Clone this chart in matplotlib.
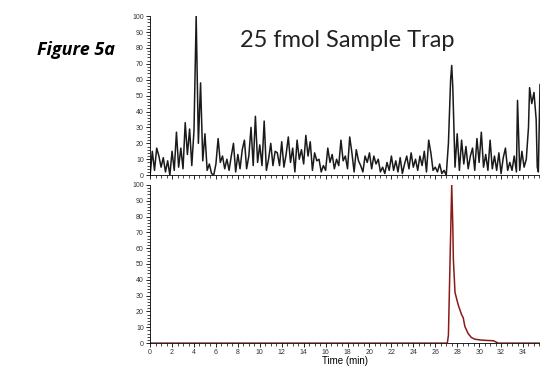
import numpy as np
import matplotlib
matplotlib.use("Agg")
import matplotlib.pyplot as plt
from matplotlib.ticker import MultipleLocator

# top trace (noisy background), time in min / relative abundance
top_t = [0.0, 0.2, 0.4, 0.6, 0.8, 1.0, 1.2, 1.4, 1.6, 1.8,
         2.0, 2.2, 2.4, 2.6, 2.8, 3.0, 3.2, 3.4, 3.6, 3.8,
         4.0, 4.2, 4.4, 4.6, 4.8, 5.0, 5.2, 5.4, 5.6, 5.8,
         6.0, 6.2, 6.4, 6.6, 6.8, 7.0, 7.2, 7.4, 7.6, 7.8,
         8.0, 8.2, 8.4, 8.6, 8.8, 9.0, 9.2, 9.4, 9.6, 9.8,
         10.0, 10.2, 10.4, 10.6, 10.8, 11.0, 11.2, 11.4, 11.6, 11.8,
         12.0, 12.2, 12.4, 12.6, 12.8, 13.0, 13.2, 13.4, 13.6, 13.8,
         14.0, 14.2, 14.4, 14.6, 14.8, 15.0, 15.2, 15.4, 15.6, 15.8,
         16.0, 16.2, 16.4, 16.6, 16.8, 17.0, 17.2, 17.4, 17.6, 17.8,
         18.0, 18.2, 18.4, 18.6, 18.8, 19.0, 19.2, 19.4, 19.6, 19.8,
         20.0, 20.2, 20.4, 20.6, 20.8, 21.0, 21.2, 21.4, 21.6, 21.8,
         22.0, 22.2, 22.4, 22.6, 22.8, 23.0, 23.2, 23.4, 23.6, 23.8,
         24.0, 24.2, 24.4, 24.6, 24.8, 25.0, 25.2, 25.4, 25.6, 25.8,
         26.0, 26.2, 26.4, 26.6, 26.8, 27.0, 27.2, 27.4, 27.5, 27.6, 27.8,
         28.0, 28.2, 28.4, 28.6, 28.8, 29.0, 29.2, 29.4, 29.6, 29.8,
         30.0, 30.2, 30.4, 30.6, 30.8, 31.0, 31.2, 31.4, 31.6, 31.8,
         32.0, 32.2, 32.4, 32.6, 32.8, 33.0, 33.2, 33.4, 33.5, 33.7, 33.9,
         34.1, 34.3, 34.5, 34.6, 34.8, 35.0, 35.2, 35.3, 35.4, 35.55]
top_y = [0, 15, 3, 17, 12, 5, 11, 2, 9, 0,
         15, 3, 27, 5, 17, 4, 33, 13, 29, 6,
         28, 100, 20, 58, 9, 26, 3, 7, 1, 0,
         7, 23, 8, 12, 4, 10, 3, 12, 20, 2,
         13, 4, 16, 22, 4, 12, 30, 6, 37, 8,
         19, 6, 34, 3, 10, 20, 6, 15, 14, 6,
         21, 5, 13, 24, 8, 17, 2, 22, 10, 16,
         7, 25, 12, 21, 3, 14, 9, 10, 2, 6,
         3, 17, 8, 13, 4, 10, 6, 22, 9, 12,
         4, 24, 14, 2, 16, 9, 6, 2, 12, 8,
         14, 4, 12, 7, 10, 2, 5, 1, 8, 3,
         12, 3, 9, 2, 11, 1, 7, 12, 4, 14,
         5, 10, 3, 12, 6, 15, 2, 22, 14, 3,
         5, 2, 7, 1, 3, 0, 20, 60, 69, 55, 5,
         26, 3, 22, 7, 18, 4, 12, 17, 3, 23,
         8, 27, 5, 13, 3, 22, 4, 12, 3, 14,
         1, 11, 17, 3, 8, 3, 12, 2, 47, 3, 15,
         5, 10, 30, 55, 45, 52, 35, 5, 2, 57]

# bottom trace (extracted ion peak)
bot_t = [0.0, 27.1, 27.2, 27.5, 27.6, 27.65, 27.8, 28.1, 28.4, 28.55, 28.7,
         29.0, 29.3, 29.6, 30.1, 30.7, 31.3, 31.75, 35.55]
bot_y = [0, 0, 5, 100, 74, 53, 32, 24, 18, 16, 10.5,
         6, 3.5, 2.5, 2, 1.7, 1.5, 0, 0]

fig = plt.figure(figsize=(5.4, 3.75), dpi=100)
ax1 = fig.add_axes([0.278, 0.533, 0.722, 0.424])
ax2 = fig.add_axes([0.278, 0.085, 0.722, 0.422])

ax1.plot(top_t, top_y, color="#1a1a1a", lw=1.1)
ax2.plot(bot_t, bot_y, color="#8b1a1a", lw=1.1)

for ax in (ax1, ax2):
    ax.set_xlim(0, 35.55)
    ax.set_ylim(0, 100)
    ax.spines["top"].set_visible(False)
    ax.spines["right"].set_visible(False)
    ax.spines["left"].set_linewidth(0.6)
    ax.spines["bottom"].set_linewidth(0.6)
    ax.xaxis.set_major_locator(MultipleLocator(2))
    ax.xaxis.set_minor_locator(MultipleLocator(0.5))
    ax.yaxis.set_major_locator(MultipleLocator(10))
    ax.yaxis.set_minor_locator(MultipleLocator(2))
    ax.tick_params(which="major", length=3, width=0.6, labelsize=5,
                   labelcolor="#333333", pad=1.5)
    ax.tick_params(which="minor", length=2, width=0.5)
    for lab in ax.get_xticklabels() + ax.get_yticklabels():
        lab.set_family("Liberation Sans")

ax1.tick_params(axis="x", labelbottom=False)
ax2.set_xlabel("Time (min)", fontsize=7, labelpad=0, family="Liberation Sans")

fig.text(0.068, 0.867, "Figure 5a", fontsize=13, fontweight="bold",
         fontstyle="italic", family="Open Sans", va="center", ha="left")
fig.text(0.643, 0.893, "25 fmol Sample Trap", fontsize=17,
         family="Lato", va="center", ha="center", color="#222222")

fig.savefig("out.png", dpi=100)
